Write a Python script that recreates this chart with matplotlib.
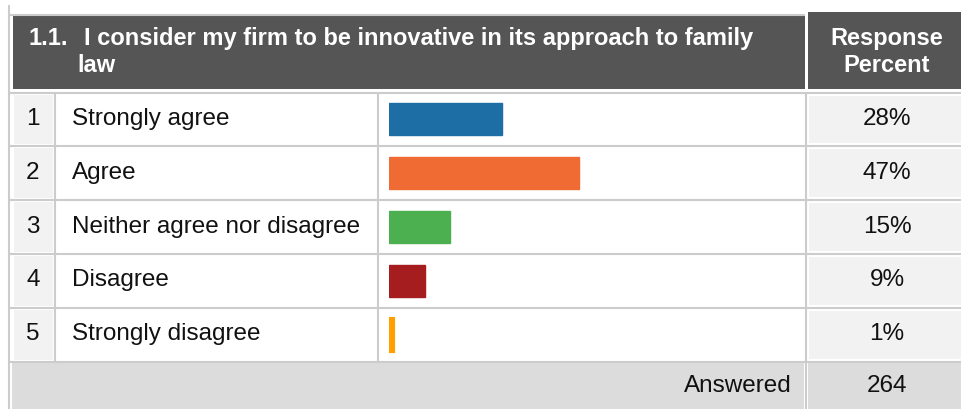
import matplotlib
matplotlib.use("Agg")
import matplotlib.pyplot as plt
from matplotlib.patches import Rectangle

# survey question 1.1 - answers and share of responses
q_number = "1.1."
q_lines = ["I consider my firm to be innovative in its approach to family", "law"]
answers = ["Strongly agree", "Agree", "Neither agree nor disagree", "Disagree", "Strongly disagree"]
percents = [28, 47, 15, 9, 1]
bar_colors = ["#1c6ea4", "#f06a33", "#4caf50", "#a51d1f", "#ffc107"]
edge_colors = ["#1c6ea4", "#f06a33", "#4caf50", "#a51d1f", "#ffa000"]
answered = 264

plt.rcParams["font.family"] = ["Liberation Sans", "DejaVu Sans"]

W, H = 962, 409
fig = plt.figure(figsize=(W / 100, H / 100), dpi=100)
ax = fig.add_axes([0, 0, 1, 1])
ax.set_xlim(0, W)
ax.set_ylim(H, 0)
ax.axis("off")

GRID = "#cccccc"
DARK = "#555555"
LIGHT = "#f2f2f2"
FOOT = "#dcdcdc"
FS_HEAD = 17
FS = 17.5

row_top = 92.5
row_h = 53.8
n = len(answers)
table_bottom = row_top + n * row_h


def box(x0, y0, x1, y1, color):
    ax.add_patch(Rectangle((x0, y0), x1 - x0, y1 - y0, facecolor=color, edgecolor="none"))


def hline(y, x0, x1):
    ax.plot([x0, x1], [y, y], color=GRID, lw=1.5, solid_capstyle="butt")


def vline(x, y0, y1):
    ax.plot([x, x], [y0, y1], color=GRID, lw=1.5, solid_capstyle="butt")


# header
vline(9, 5, H)
hline(15, 9, 805)
box(13, 16, 805, 89, DARK)
box(808, 12, W, 89, DARK)
head = dict(color="white", fontsize=FS_HEAD, fontweight="bold", va="baseline")
ax.text(29, 45, q_number, **head)
ax.text(84, 45, q_lines[0], **head)
ax.text(77, 72, q_lines[1], **head)
ax.text(887, 45, "Response", ha="center", **head)
ax.text(887, 72, "Percent", ha="center", **head)

# answer rows
for i, label in enumerate(answers):
    top = row_top + i * row_h
    hline(top, 10, W)
    box(14, top + 2, 53, top + row_h - 2, LIGHT)
    box(809, top + 3, W, top + row_h - 3, LIGHT)
    vline(55, top + 1, top + row_h - 1)
    vline(378, top + 1, top + row_h - 1)
    vline(806, top + 1, top + row_h - 1)
    base = top + 32.5
    ax.text(33, base, str(i + 1), fontsize=FS, ha="center", va="baseline", color="#111111")
    ax.text(72, base, label, fontsize=FS, va="baseline", color="#111111")
    ax.text(887, base, f"{percents[i]}%", fontsize=FS, ha="center", va="baseline", color="#111111")

# answered footer
hline(table_bottom, 10, W)
box(12, table_bottom + 1.5, 804, H, FOOT)
box(808, table_bottom + 1.5, W, H, FOOT)
vline(806, table_bottom, H)
ax.text(792, 392, "Answered", fontsize=FS, ha="right", va="baseline", color="#111111")
ax.text(887, 392, str(answered), fontsize=FS, ha="center", va="baseline", color="#111111")

# bars, 0-100% across the bar column
bx = fig.add_axes([389 / W, 1 - table_bottom / H, 405 / W, n * row_h / H])
bx.barh(range(n), percents, height=0.595, color=bar_colors, edgecolor=edge_colors,
        linewidth=[1, 1, 1, 1, 3])
bx.set_xlim(0, 100)
bx.set_ylim(n - 0.5, -0.5)
bx.axis("off")
bx.patch.set_alpha(0)

fig.savefig("out.png", dpi=100)
